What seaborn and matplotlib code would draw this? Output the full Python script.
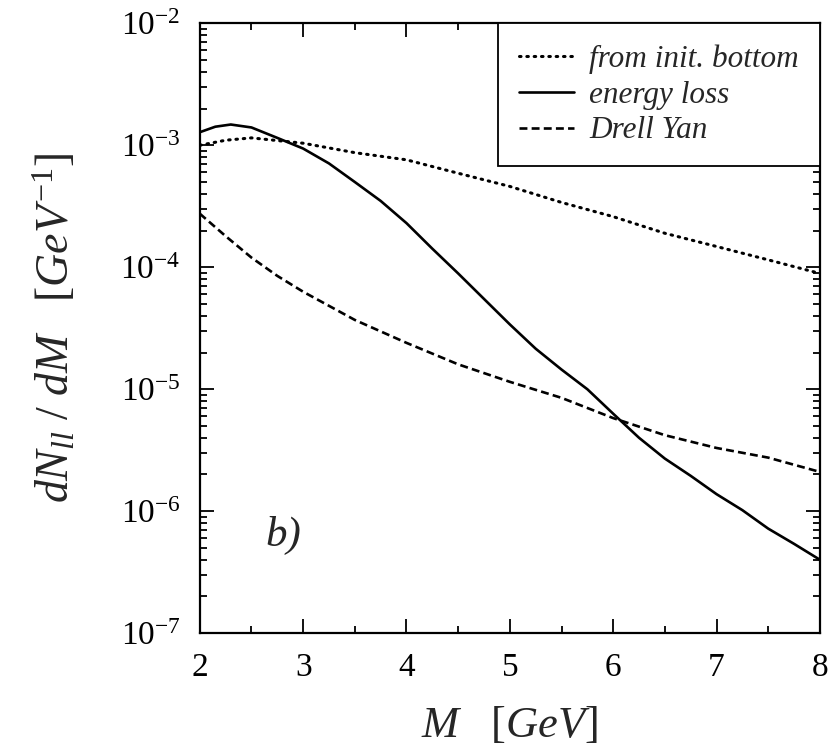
import numpy as np
import pandas as pd
import seaborn as sns
import matplotlib.pyplot as plt
from matplotlib.ticker import LogFormatterMathtext, LogLocator, MultipleLocator, NullFormatter

# values (M in GeV, dN/dM in GeV^-1)
m_bottom = [2.0, 2.25, 2.5, 3.0, 3.5, 4.0, 4.5, 5.0, 5.5, 6.0, 6.5, 7.0, 7.5, 8.0]
dn_bottom = [1.0e-3, 1.1e-3, 1.15e-3, 1.04e-3, 8.7e-4, 7.6e-4, 5.9e-4, 4.6e-4,
             3.4e-4, 2.6e-4, 1.9e-4, 1.48e-4, 1.15e-4, 8.9e-5]

m_eloss = [2.0, 2.15, 2.3, 2.5, 2.75, 3.0, 3.25, 3.5, 3.75, 4.0, 4.25, 4.5, 4.75,
           5.0, 5.25, 5.5, 5.75, 6.0, 6.25, 6.5, 6.75, 7.0, 7.25, 7.5, 7.75, 8.0]
dn_eloss = [1.28e-3, 1.42e-3, 1.48e-3, 1.40e-3, 1.15e-3, 9.4e-4, 7.1e-4, 5.0e-4,
            3.5e-4, 2.3e-4, 1.42e-4, 8.9e-5, 5.5e-5, 3.4e-5, 2.15e-5, 1.45e-5,
            1.0e-5, 6.3e-6, 4.0e-6, 2.7e-6, 1.95e-6, 1.38e-6, 1.02e-6, 7.2e-7,
            5.4e-7, 4.0e-7]

m_dy = [2.0, 2.25, 2.5, 2.75, 3.0, 3.5, 4.0, 4.5, 5.0, 5.5, 6.0, 6.5, 7.0, 7.5, 8.0]
dn_dy = [2.75e-4, 1.8e-4, 1.2e-4, 8.5e-5, 6.3e-5, 3.7e-5, 2.4e-5, 1.6e-5,
         1.15e-5, 8.5e-6, 5.8e-6, 4.2e-6, 3.3e-6, 2.75e-6, 2.1e-6]

labels = ['from init. bottom', 'energy loss', 'Drell Yan']

sns.set_style("ticks")
plt.rcParams['font.family'] = ['Liberation Serif', 'DejaVu Serif']
plt.rcParams['mathtext.fontset'] = 'custom'
plt.rcParams['mathtext.rm'] = 'Liberation Serif'
plt.rcParams['mathtext.it'] = 'Liberation Serif:italic'

fig = plt.figure(figsize=(8.29, 7.52), dpi=100)
ax = fig.add_axes([0.241, 0.158, 0.748, 0.811])

sns.lineplot(x=m_bottom, y=dn_bottom, ax=ax, color='black', lw=2.2,
             linestyle=(0, (0.5, 1.9)), dash_capstyle='round', label=labels[0])
sns.lineplot(x=m_eloss, y=dn_eloss, ax=ax, color='black', lw=1.9, label=labels[1])
sns.lineplot(x=m_dy, y=dn_dy, ax=ax, color='black', lw=1.9,
             linestyle=(0, (3, 1.6)), label=labels[2])

ax.set_yscale('log')
ax.set_xlim(2, 8)
ax.set_ylim(1e-7, 1e-2)

ax.xaxis.set_major_locator(MultipleLocator(1))
ax.xaxis.set_minor_locator(MultipleLocator(0.5))
ax.yaxis.set_major_locator(LogLocator(base=10))
ax.yaxis.set_major_formatter(LogFormatterMathtext())
ax.yaxis.set_minor_locator(LogLocator(base=10, subs=np.arange(2, 10)))
ax.yaxis.set_minor_formatter(NullFormatter())

ax.tick_params(which='both', direction='in', top=True, right=True, width=1.3,
               labelsize=24, colors='black')
ax.tick_params(which='major', length=10)
ax.tick_params(which='minor', length=5)
ax.tick_params(axis='y', pad=14)
ax.tick_params(axis='x', pad=14)
for s in ax.spines.values():
    s.set_linewidth(1.6)
    s.set_color('black')

ax.set_xlabel(r'$M\ \ \ [GeV]$', fontsize=32, labelpad=16)
ax.set_ylabel(r'$dN_{ll}\ /\ dM\ \ \ [GeV^{-1}]$', fontsize=33, labelpad=30)

ax.text(2.81, 10**-6.2, 'b)', fontsize=31, style='italic', ha='center', va='center')

leg = ax.legend(loc='upper right', bbox_to_anchor=(1.0, 1.0), borderaxespad=0,
                fancybox=False, edgecolor='black', framealpha=1, handlelength=1.75,
                handletextpad=0.5, labelspacing=0.22, borderpad=0.67,
                prop={'family': 'Liberation Serif', 'style': 'italic', 'size': 22.5})
leg.get_frame().set_linewidth(1.3)

plt.savefig('out.png', dpi=100)
